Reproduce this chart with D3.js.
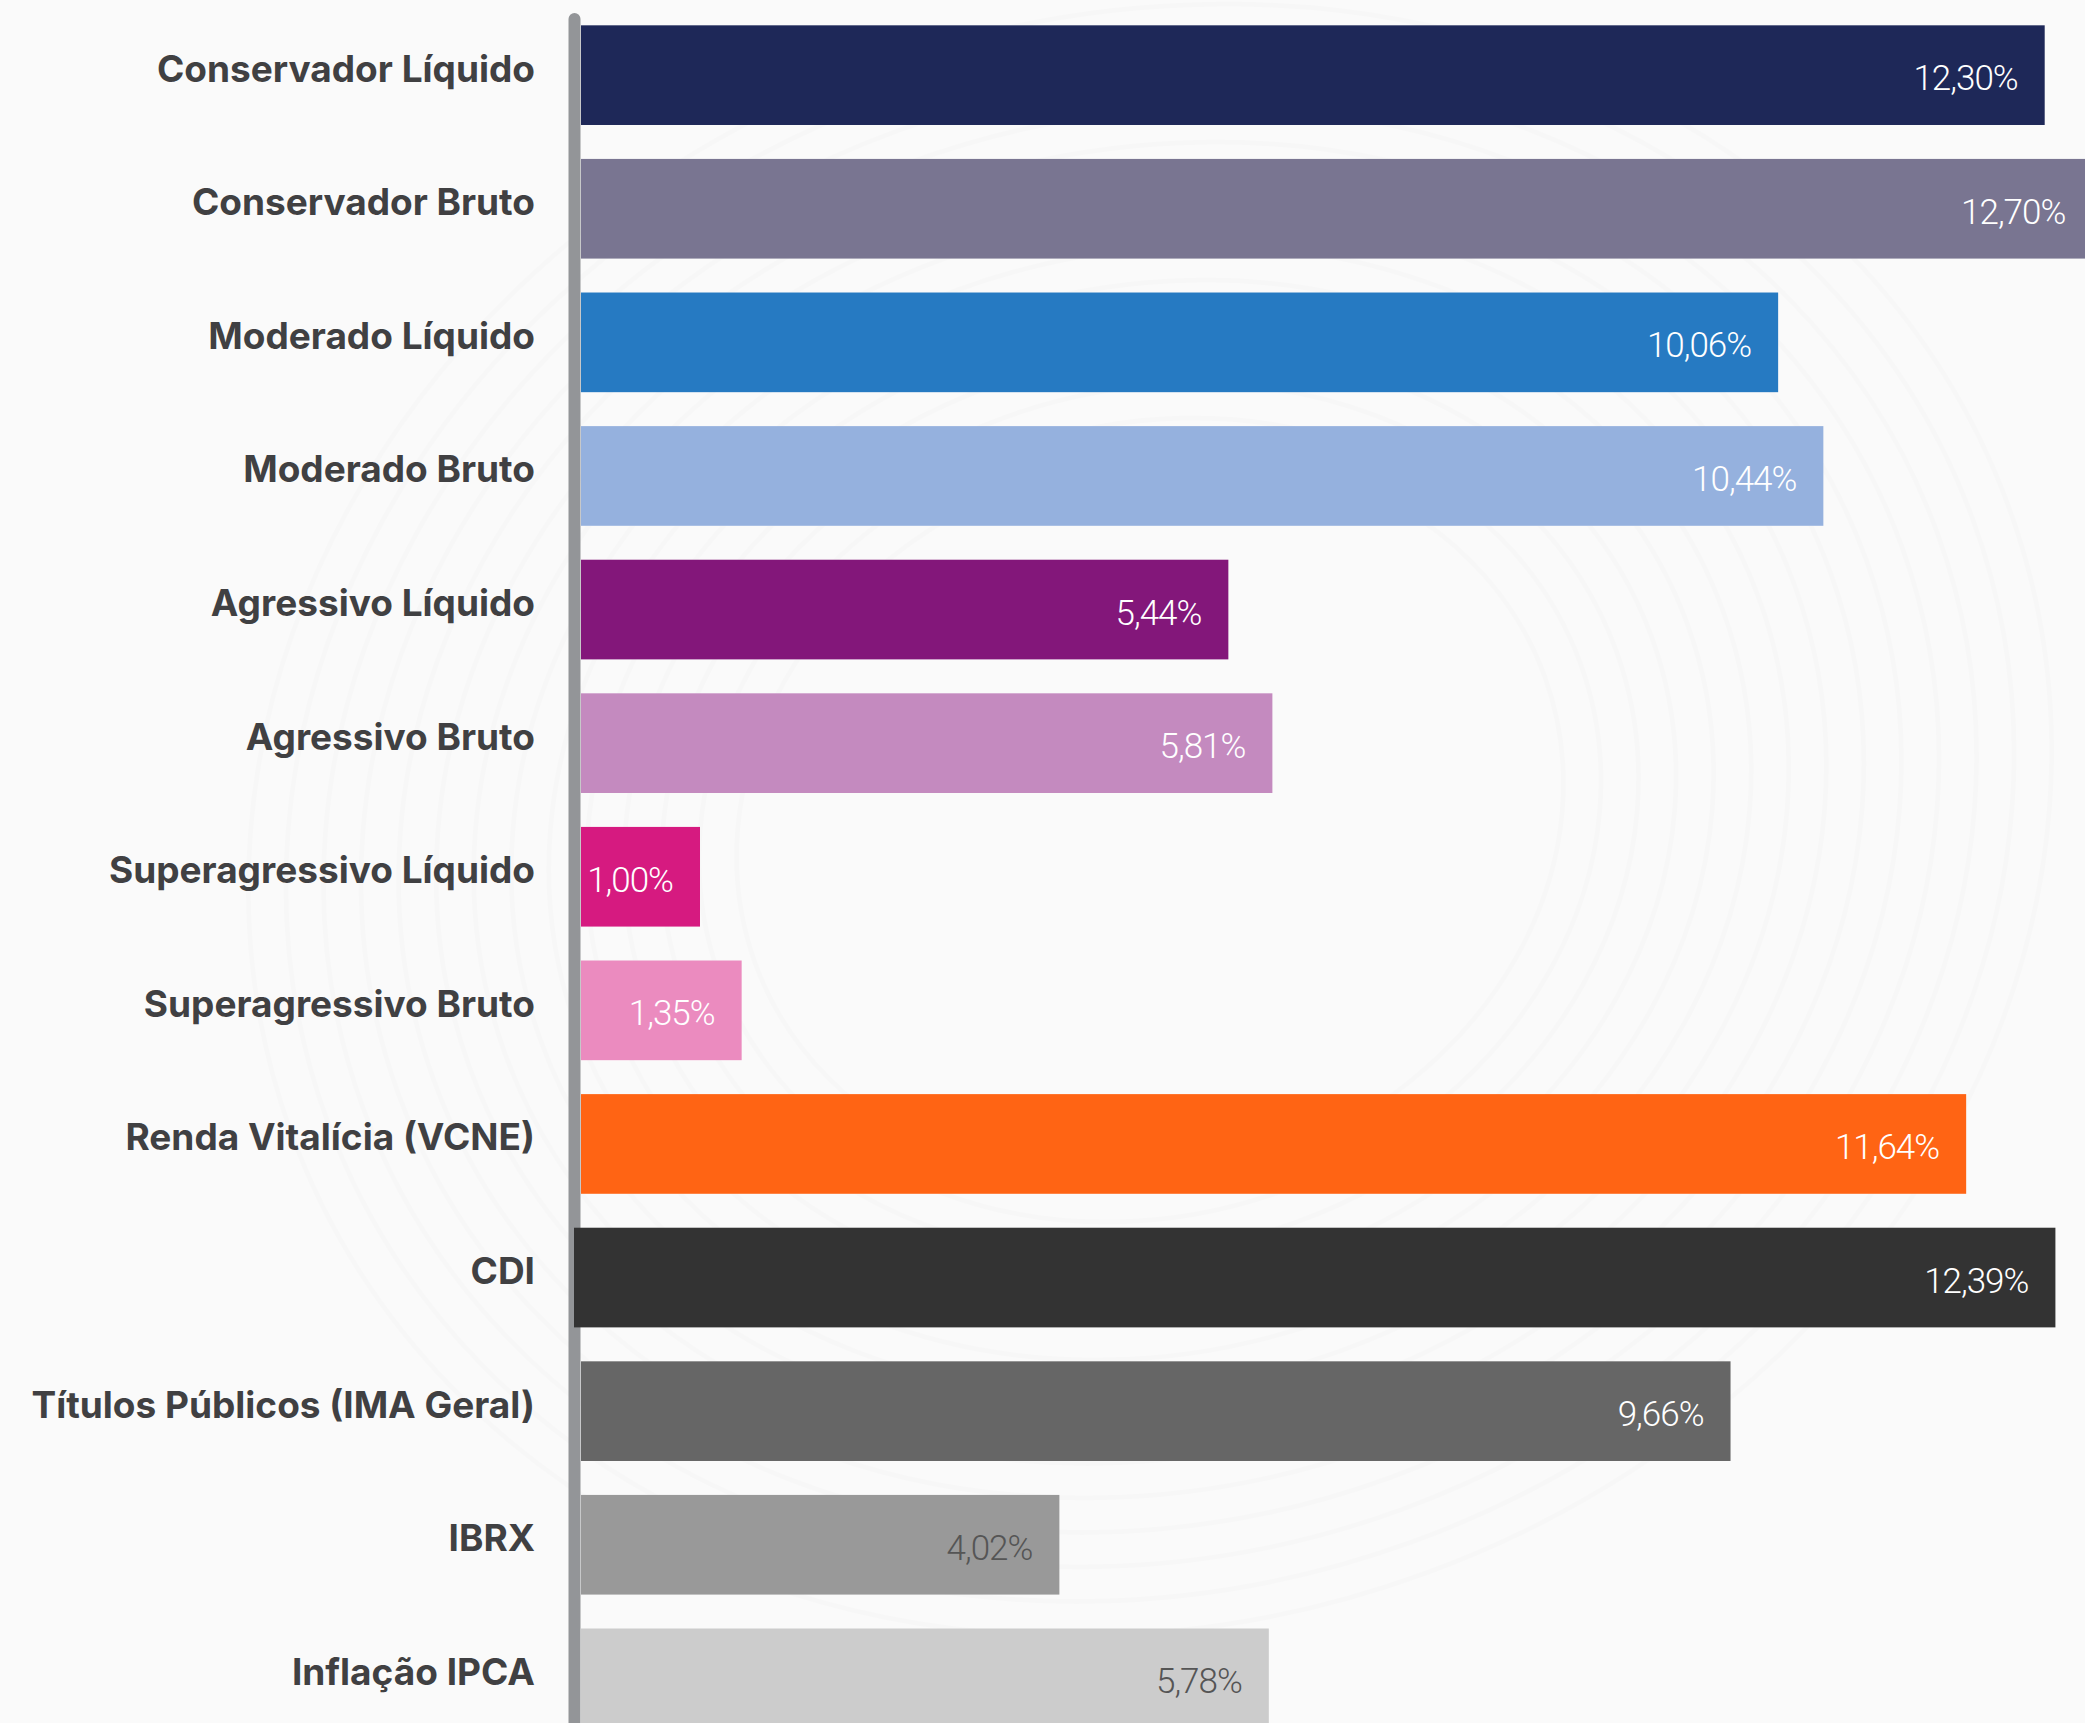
<!DOCTYPE html>
<html>
  <head>
    <meta charset="UTF-8" />
    <style>
      body {
        margin: 0;
        background-color: rgb(250, 250, 250);
      }
      .label {
        font-family: Inter, Roboto, 'Liberation Sans', sans-serif;
        font-weight: 700;
        font-size: 37px;
        fill: rgb(64, 64, 66);
      }
      .value {
        font-family: Roboto, 'Liberation Sans', sans-serif;
        font-weight: 300;
        font-size: 35px;
        letter-spacing: -1px;
      }
    </style>
  </head>
  <body>
    <svg></svg>

    <script src="https://d3js.org/d3.v7.min.js"></script>

    <script>
      let width = 2085,
        height = 1723

      // data
      const categories = [
        'Conservador Líquido',
        'Conservador Bruto',
        'Moderado Líquido',
        'Moderado Bruto',
        'Agressivo Líquido',
        'Agressivo Bruto',
        'Superagressivo Líquido',
        'Superagressivo Bruto',
        'Renda Vitalícia (VCNE)',
        'CDI',
        'Títulos Públicos (IMA Geral)',
        'IBRX',
        'Inflação IPCA',
      ]
      const values = [12.3, 12.7, 10.06, 10.44, 5.44, 5.81, 1.0, 1.35, 11.64, 12.39, 9.66, 4.02, 5.78]
      const colors = [
        '#1e2858', '#797591', '#267ac2', '#95b1de', '#83177a', '#c48abf', '#d61a80',
        '#eb8bbf', '#ff6414', '#333333', '#666666', '#999999', '#cccccc',
      ]
      const textColors = [
        '#fff', '#fff', '#fff', '#fff', '#fff', '#fff', '#fff',
        '#fff', '#fff', '#fff', '#fff', '#555555', '#555555',
      ]

      let rows = categories.map((c, i) => ({
        cat: c,
        value: values[i],
        color: colors[i],
        text: textColors[i],
      }))

      let svg = d3.select('svg').attr('width', width).attr('height', height)

      // very faint swirl in the background
      let bg = svg.append('g').attr('fill', 'none').attr('stroke', 'rgba(0,0,0,0.01)').attr('stroke-width', 5)
      d3.range(0, 14).forEach((k) => {
        bg.append('ellipse')
          .attr('cx', 1150)
          .attr('cy', 820)
          .attr('rx', 420 + k * 38)
          .attr('ry', 360 + k * 34)
          .attr('transform', 'rotate(-20 1150 820)')
      })

      let x = d3.scaleLinear().domain([0, 12.7]).range([581, 581 + 12.7 * 119])

      let y = d3
        .scaleBand()
        .domain(categories)
        .range([8.35, 8.35 + 13 * 133.6])
        .paddingInner(0.254)
        .paddingOuter(0.127)

      // vertical axis line
      svg
        .append('line')
        .attr('x1', 574.5)
        .attr('x2', 574.5)
        .attr('y1', 19)
        .attr('y2', height + 20)
        .attr('stroke', '#939598')
        .attr('stroke-width', 12)
        .attr('stroke-linecap', 'round')

      let bars = svg.append('g').selectAll('g').data(rows).enter().append('g')

      bars
        .append('rect')
        .attr('x', (d) => (d.cat === 'CDI' ? x(0) - 7 : x(0)))
        .attr('y', (d) => y(d.cat))
        .attr('width', (d) => x(d.value) - x(0) + (d.cat === 'CDI' ? 7 : 0))
        .attr('height', y.bandwidth())
        .attr('fill', (d) => d.color)

      bars
        .append('text')
        .attr('class', 'value')
        .attr('x', (d) => x(d.value) - 27)
        .attr('y', (d) => y(d.cat) + y.bandwidth() / 2 + 15)
        .attr('text-anchor', 'end')
        .attr('fill', (d) => d.text)
        .text((d) => d.value.toFixed(2).replace('.', ',') + '%')

      bars
        .append('text')
        .attr('class', 'label')
        .attr('x', 535)
        .attr('y', (d) => y(d.cat) + y.bandwidth() / 2 + 6.5)
        .attr('text-anchor', 'end')
        .text((d) => d.cat)
    </script>
  </body>
</html>
